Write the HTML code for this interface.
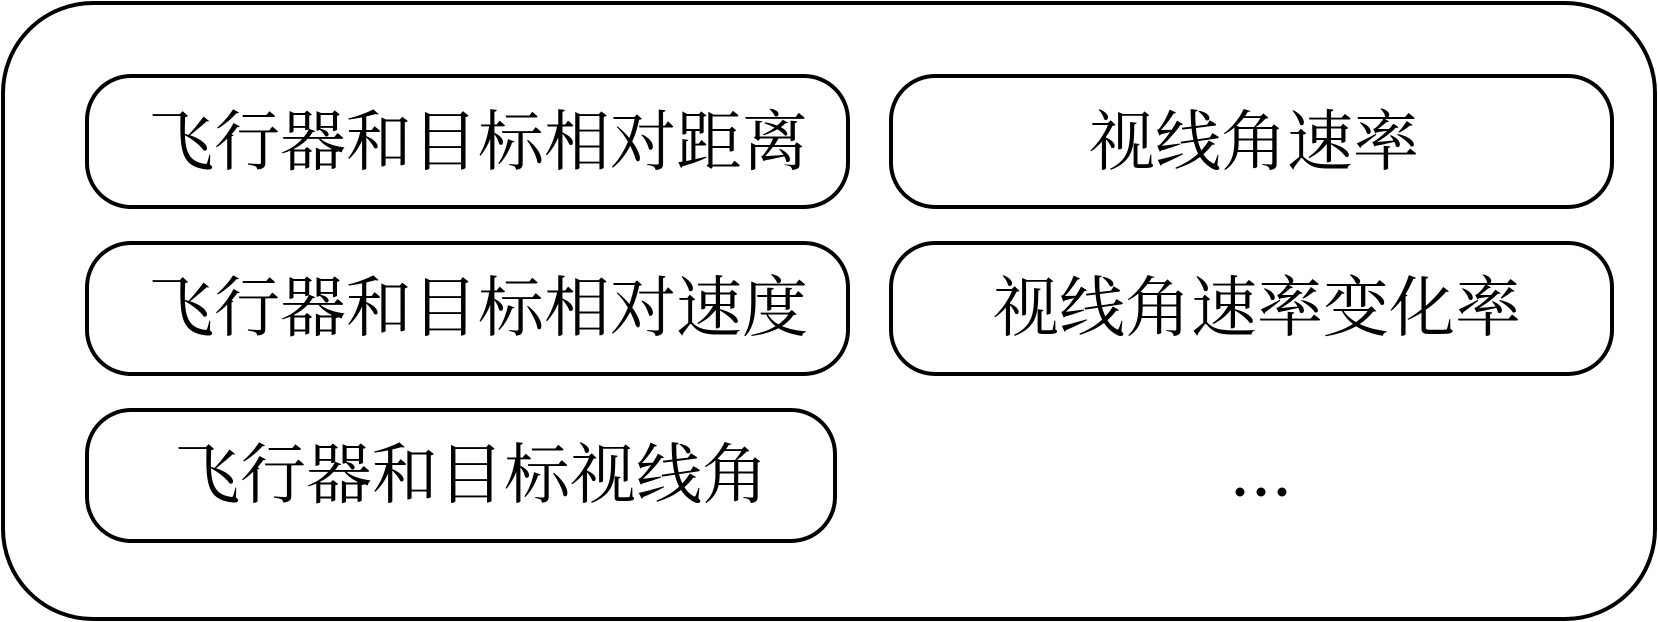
<!DOCTYPE html>
<html><head><meta charset="utf-8"><style>
html,body{margin:0;padding:0;background:#fff;}
svg{display:block;}
text{font-family:"Liberation Serif","Noto Serif CJK SC",serif;font-size:66px;fill:#000;}
</style></head><body>
<svg width="1658" height="622" viewBox="0 0 1658 622" xmlns="http://www.w3.org/2000/svg">
<g fill="none" stroke="#000" stroke-width="4">
<rect x="3" y="3" width="1652" height="616" rx="90" ry="90"/>
<rect x="87" y="76" width="761" height="131" rx="44" ry="44"/>
<rect x="87" y="243" width="761" height="131" rx="44" ry="44"/>
<rect x="87" y="410" width="748" height="131" rx="44" ry="44"/>
<rect x="891" y="76" width="721" height="131" rx="44" ry="44"/>
<rect x="891" y="243" width="721" height="131" rx="44" ry="44"/>
</g>
<g text-anchor="middle" dominant-baseline="central">
<text x="478" y="143">飞行器和目标相对距离</text>
<text x="478" y="309">飞行器和目标相对速度</text>
<text x="471" y="476">飞行器和目标视线角</text>
<text x="1254" y="143">视线角速率</text>
<text x="1257" y="309">视线角速率变化率</text>
</g>
<g fill="#000">
<circle cx="1240" cy="492" r="4.5"/>
<circle cx="1261" cy="492" r="4.5"/>
<circle cx="1282" cy="492" r="4.5"/>
</g>
</svg>
</body></html>
